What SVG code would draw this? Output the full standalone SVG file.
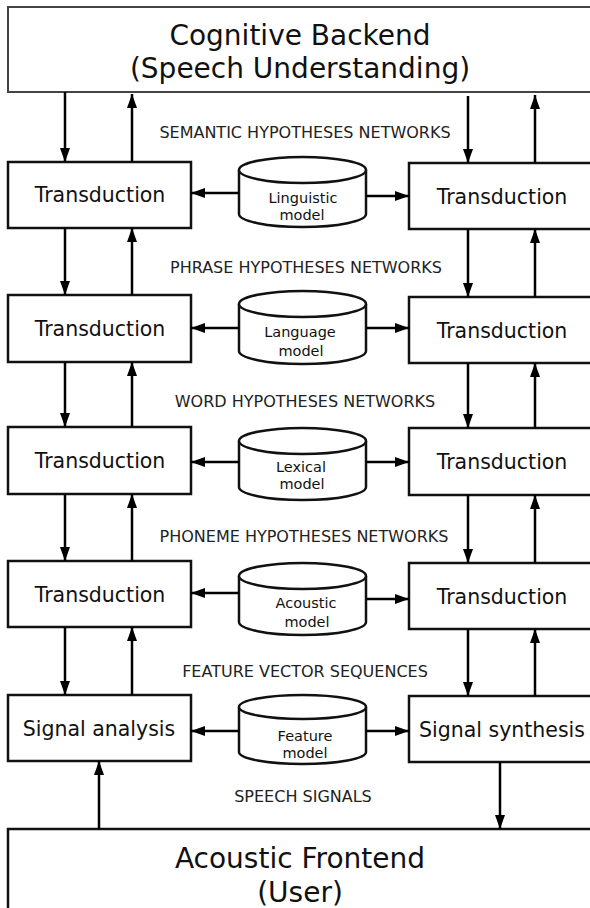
<svg xmlns="http://www.w3.org/2000/svg" width="590" height="908" viewBox="0 0 590 908">
<defs>
<marker id="ah" viewBox="0 0 14 10" refX="14" refY="5" markerWidth="14" markerHeight="10" markerUnits="userSpaceOnUse" orient="auto">
<path d="M0,0 L14,5 L0,10 z" fill="#000"/>
</marker>
</defs>
<style>
.box{fill:#fff;stroke:#111;stroke-width:2.5}
.big{font-family:"DejaVu Sans",sans-serif;font-size:28px;fill:#111;text-anchor:middle}
.mid{font-family:"DejaVu Sans",sans-serif;font-size:20.5px;fill:#111;text-anchor:middle}
.sm{font-family:"DejaVu Sans",sans-serif;font-size:14.5px;fill:#111;text-anchor:middle}
.lbl{font-family:"DejaVu Sans",sans-serif;font-size:16px;fill:#222;text-anchor:middle}
.cyl{fill:#fff;stroke:#111;stroke-width:2.5}
.c{fill:none;stroke:#000;stroke-width:2.5;marker-end:url(#ah)}
</style>
<rect width="590" height="908" fill="#fff"/>

<g id="backend">
<rect class="box" x="8" y="7" width="600" height="85" style="stroke:#444;stroke-width:2"/>
<text class="big" x="300" y="45">Cognitive Backend</text>
<text class="big" x="300" y="78">(Speech Understanding)</text>
</g>

<g id="frontend">
<rect class="box" x="8" y="829" width="600" height="100"/>
<text class="big" x="300" y="868">Acoustic Frontend</text>
<text class="big" x="300" y="902">(User)</text>
</g>

<g id="left1"><rect class="box" x="8" y="162" width="183" height="66"/><text class="mid" x="100" y="202">Transduction</text></g>
<g id="left2"><rect class="box" x="8" y="295" width="183" height="67"/><text class="mid" x="100" y="336">Transduction</text></g>
<g id="left3"><rect class="box" x="8" y="427" width="183" height="67"/><text class="mid" x="100" y="468">Transduction</text></g>
<g id="left4"><rect class="box" x="8" y="561" width="183" height="66"/><text class="mid" x="100" y="601.5">Transduction</text></g>
<g id="left5"><rect class="box" x="8" y="695" width="183" height="66"/><text class="mid" x="99" y="735.5">Signal analysis</text></g>

<g id="right1"><rect class="box" x="409" y="163" width="200" height="66"/><text class="mid" x="502" y="203.5">Transduction</text></g>
<g id="right2"><rect class="box" x="409" y="297" width="200" height="66"/><text class="mid" x="502" y="337.5">Transduction</text></g>
<g id="right3"><rect class="box" x="409" y="428" width="200" height="67"/><text class="mid" x="502" y="469">Transduction</text></g>
<g id="right4"><rect class="box" x="409" y="563" width="200" height="66"/><text class="mid" x="502" y="603.5">Transduction</text></g>
<g id="right5"><rect class="box" x="409" y="696" width="200" height="66"/><text class="mid" x="502" y="736.5">Signal synthesis</text></g>

<g id="cyl1">
<path class="cyl" d="M239,170 V214 A63.5,13 0 0 0 366,214 V170"/>
<ellipse class="cyl" cx="302.5" cy="170" rx="63.5" ry="13"/>
<text class="sm" x="303" y="203">Linguistic</text><text class="sm" x="302" y="220">model</text>
</g>
<g id="cyl2">
<path class="cyl" d="M239,304 V351 A63.5,13 0 0 0 366,351 V304"/>
<ellipse class="cyl" cx="302.5" cy="304" rx="63.5" ry="13"/>
<text class="sm" x="300" y="337">Language</text><text class="sm" x="301" y="356">model</text>
</g>
<g id="cyl3">
<path class="cyl" d="M239,441 V487 A63.5,13 0 0 0 366,487 V441"/>
<ellipse class="cyl" cx="302.5" cy="441" rx="63.5" ry="13"/>
<text class="sm" x="301" y="472">Lexical</text><text class="sm" x="302" y="489">model</text>
</g>
<g id="cyl4">
<path class="cyl" d="M239,576 V622 A63.5,13 0 0 0 366,622 V576"/>
<ellipse class="cyl" cx="302.5" cy="576" rx="63.5" ry="13"/>
<text class="sm" x="306" y="608">Acoustic</text><text class="sm" x="307" y="627">model</text>
</g>
<g id="cyl5">
<path class="cyl" d="M239,707 V752 A63.5,12 0 0 0 366,752 V707"/>
<ellipse class="cyl" cx="302.5" cy="707" rx="63.5" ry="12"/>
<text class="sm" x="305" y="741">Feature</text><text class="sm" x="305" y="758">model</text>
</g>

<g id="labels">
<text class="lbl" x="305" y="138">SEMANTIC HYPOTHESES NETWORKS</text>
<text class="lbl" x="306" y="273">PHRASE HYPOTHESES NETWORKS</text>
<text class="lbl" x="305" y="407">WORD HYPOTHESES NETWORKS</text>
<text class="lbl" x="304" y="542">PHONEME HYPOTHESES NETWORKS</text>
<text class="lbl" x="305" y="677">FEATURE VECTOR SEQUENCES</text>
<text class="lbl" x="303" y="802">SPEECH SIGNALS</text>
</g>

<g id="connectors">
<line class="c" x1="65" y1="92" x2="65" y2="162"/>
<line class="c" x1="132" y1="162" x2="132" y2="94"/>
<line class="c" x1="468" y1="96" x2="468" y2="163"/>
<line class="c" x1="535" y1="163" x2="535" y2="95"/>
<line class="c" x1="65" y1="228" x2="65" y2="295"/>
<line class="c" x1="132" y1="295" x2="132" y2="228"/>
<line class="c" x1="468" y1="229" x2="468" y2="297"/>
<line class="c" x1="535" y1="297" x2="535" y2="229"/>
<line class="c" x1="65" y1="362" x2="65" y2="427"/>
<line class="c" x1="132" y1="427" x2="132" y2="362"/>
<line class="c" x1="468" y1="363" x2="468" y2="428"/>
<line class="c" x1="535" y1="428" x2="535" y2="363"/>
<line class="c" x1="65" y1="494" x2="65" y2="561"/>
<line class="c" x1="132" y1="561" x2="132" y2="494"/>
<line class="c" x1="468" y1="495" x2="468" y2="563"/>
<line class="c" x1="535" y1="563" x2="535" y2="495"/>
<line class="c" x1="65" y1="627" x2="65" y2="695"/>
<line class="c" x1="132" y1="695" x2="132" y2="627"/>
<line class="c" x1="468" y1="629" x2="468" y2="696"/>
<line class="c" x1="535" y1="696" x2="535" y2="629"/>
<line class="c" x1="99" y1="829" x2="99" y2="761"/>
<line class="c" x1="500" y1="762" x2="500" y2="829"/>
<line class="c" x1="239" y1="193" x2="191" y2="193"/>
<line class="c" x1="366" y1="196" x2="409" y2="196"/>
<line class="c" x1="239" y1="328" x2="191" y2="328"/>
<line class="c" x1="366" y1="328" x2="409" y2="328"/>
<line class="c" x1="239" y1="462" x2="191" y2="462"/>
<line class="c" x1="366" y1="462" x2="409" y2="462"/>
<line class="c" x1="239" y1="593" x2="191" y2="593"/>
<line class="c" x1="366" y1="599" x2="409" y2="599"/>
<line class="c" x1="239" y1="731" x2="191" y2="731"/>
<line class="c" x1="366" y1="731" x2="409" y2="731"/>
</g>
</svg>
